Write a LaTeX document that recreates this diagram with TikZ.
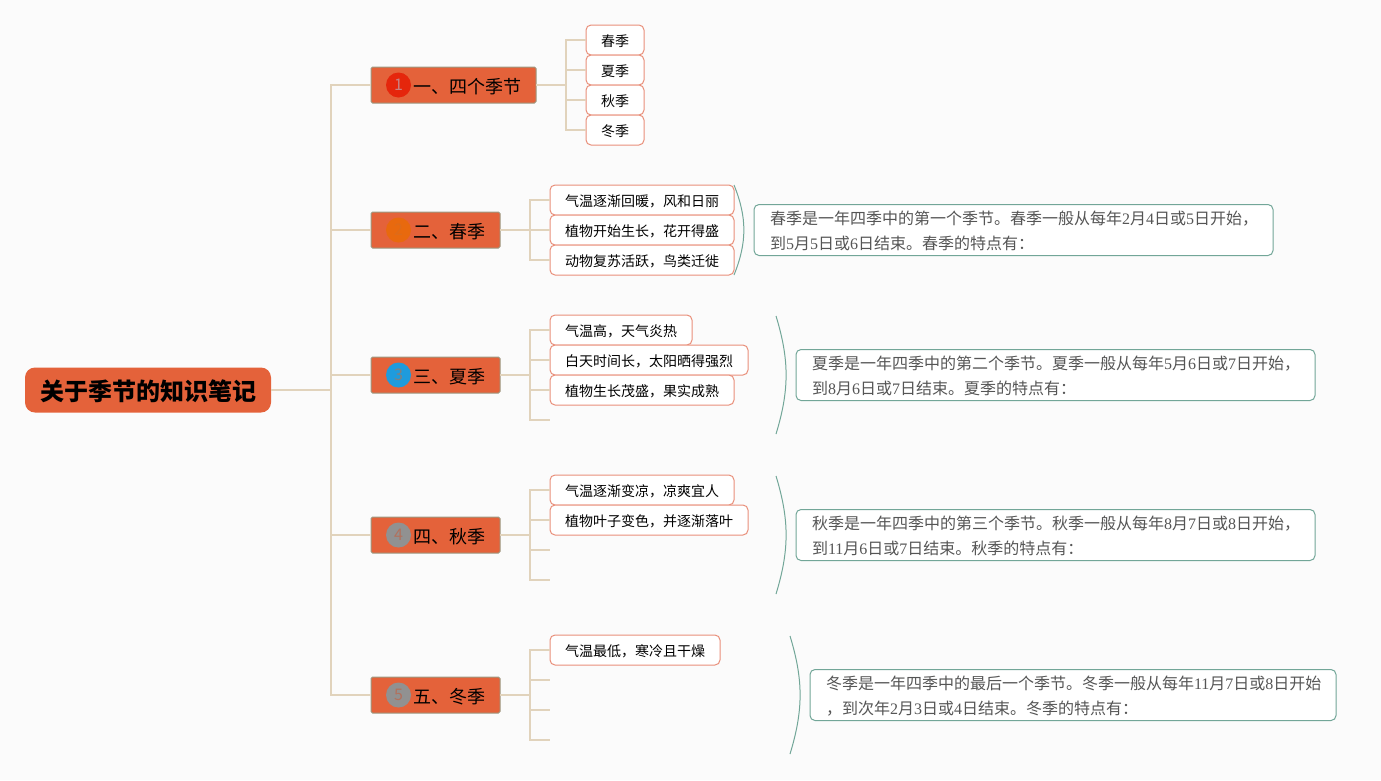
\documentclass[tikz,border=0pt]{standalone}
\usepackage{fontspec}
\setmainfont{Noto Sans CJK SC}
\newfontfamily\digitfont{Liberation Serif}
\newcommand{\dg}[1]{{\digitfont #1}}
\usepackage{xcolor}
\definecolor{pagecol}{HTML}{FBFBFB}
\definecolor{linkcol}{HTML}{E1D3BC}
\definecolor{secfill}{HTML}{E4623A}
\definecolor{secedge}{HTML}{9C9A82}
\definecolor{leafedge}{HTML}{E98F7A}
\definecolor{noteedge}{HTML}{72A698}
\definecolor{notetext}{HTML}{555555}
\definecolor{badgeone}{HTML}{E5260C}
\definecolor{badgetwo}{HTML}{E8690E}
\definecolor{badgethree}{HTML}{1F9BDC}
\definecolor{badgefour}{HTML}{919191}
\tikzset{
  rootbox/.style={draw=none, fill=secfill, rounded corners=10pt, minimum width=246pt, minimum height=45pt,
    inner sep=0pt, outer sep=0pt, text height=20.4pt, text depth=0pt, font=\fontsize{24}{24}\selectfont\bfseries},
  secbox/.style={draw=secedge, line width=1pt, fill=secfill, rounded corners=1.5pt, anchor=west, minimum height=36pt,
    inner xsep=15pt, inner ysep=0pt, outer sep=0pt, text height=16.8pt, text depth=0pt, font=\fontsize{18}{18}\selectfont},
  badge/.style={circle, minimum size=25pt, inner sep=0pt, font=\fontsize{16}{16}\selectfont},
  leafbox/.style={draw=leafedge, line width=1pt, fill=white, rounded corners=5pt, anchor=west, minimum height=30pt,
    inner xsep=15pt, inner ysep=0pt, outer sep=0pt, text height=13.8pt, text depth=0pt, font=\fontsize{14}{14}\selectfont},
  notebox/.style={draw=noteedge, line width=1pt, fill=white, rounded corners=5pt, anchor=west, minimum height=51pt,
    inner xsep=16pt, inner ysep=0pt, outer sep=0pt, align=left, text=notetext, text height=16pt, font=\fontsize{16}{25}\selectfont},
  link/.style={draw=linkcol, line width=1.6pt},
  brace/.style={draw=noteedge, line width=1pt},
}
\begin{document}
\begin{tikzpicture}[x=1pt,y=-1pt]
  % Page
  \fill[pagecol] (0,0) rectangle (1381,780);

  % Root
  \node[rootbox] (root) at (148,390) {关于季节的知识笔记};
  \coordinate (trunk) at (331,390);

  % Sections
  \node[secbox] (sec1) at (371,85) {\hspace*{27pt}一、四个季节};
  \node[secbox] (sec2) at (371,230) {\hspace*{27pt}二、春季};
  \node[secbox] (sec3) at (371,375) {\hspace*{27pt}三、夏季};
  \node[secbox] (sec4) at (371,535) {\hspace*{27pt}四、秋季};
  \node[secbox] (sec5) at (371,695) {\hspace*{27pt}五、冬季};

  % Number badges
  \node[badge, fill=badgeone, text=gray!60!red!70] (badge1) at (398.5,85) {1};
  \node[badge, fill=badgetwo, text=badgetwo!90!gray] (badge2) at (398.5,230) {2};
  \node[badge, fill=badgethree, text=gray] (badge3) at (398.5,375) {3};
  \node[badge, fill=badgefour, text=secfill!50!gray] (badge4) at (398.5,535) {4};
  \node[badge, fill=badgefour, text=secfill!50!gray] (badge5) at (398.5,695) {5};

  % Leaves
  \node[leafbox] (leaf11) at (586,40) {春季};
  \node[leafbox] (leaf12) at (586,70) {夏季};
  \node[leafbox] (leaf13) at (586,100) {秋季};
  \node[leafbox] (leaf14) at (586,130) {冬季};

  \node[leafbox] (leaf21) at (550,200) {气温逐渐回暖，风和日丽};
  \node[leafbox] (leaf22) at (550,230) {植物开始生长，花开得盛};
  \node[leafbox] (leaf23) at (550,260) {动物复苏活跃，鸟类迁徙};

  \node[leafbox] (leaf31) at (550,330) {气温高，天气炎热};
  \node[leafbox] (leaf32) at (550,360) {白天时间长，太阳晒得强烈};
  \node[leafbox] (leaf33) at (550,390) {植物生长茂盛，果实成熟};
  \coordinate (leaf34) at (550,420);

  \node[leafbox] (leaf41) at (550,490) {气温逐渐变凉，凉爽宜人};
  \node[leafbox] (leaf42) at (550,520) {植物叶子变色，并逐渐落叶};
  \coordinate (leaf43) at (550,550);
  \coordinate (leaf44) at (550,580);

  \node[leafbox] (leaf51) at (550,650) {气温最低，寒冷且干燥};
  \coordinate (leaf52) at (550,680);
  \coordinate (leaf53) at (550,710);
  \coordinate (leaf54) at (550,740);

  % Notes
  \node[notebox, text width=487pt] (note2) at (754,230) {春季是一年四季中的第一个季节。春季一般从每年\dg{2}月\dg{4}日或\dg{5}日开始，\\到\dg{5}月\dg{5}日或\dg{6}日结束。春季的特点有：};
  \node[notebox, text width=487pt] (note3) at (796,375) {夏季是一年四季中的第二个季节。夏季一般从每年\dg{5}月\dg{6}日或\dg{7}日开始，\\到\dg{8}月\dg{6}日或\dg{7}日结束。夏季的特点有：};
  \node[notebox, text width=487pt] (note4) at (796,535) {秋季是一年四季中的第三个季节。秋季一般从每年\dg{8}月\dg{7}日或\dg{8}日开始，\\到\dg{11}月\dg{6}日或\dg{7}日结束。秋季的特点有：};
  \node[notebox, text width=494pt] (note5) at (810,695) {冬季是一年四季中的最后一个季节。冬季一般从每年\dg{11}月\dg{7}日或\dg{8}日开始\\，到次年\dg{2}月\dg{3}日或\dg{4}日结束。冬季的特点有：};

  % Main links
  \draw[link] (root.east) -- (trunk);
  \foreach \n in {1,...,5} {
    \draw[link] (trunk) |- (sec\n.west);
  }

  % Forks
  \coordinate (fork1) at (566,85);
  \coordinate (fork2) at (530,230);
  \coordinate (fork3) at (530,375);
  \coordinate (fork4) at (530,535);
  \coordinate (fork5) at (530,695);
  \foreach \n in {1,...,5} {
    \draw[link] (sec\n.east) -- (fork\n);
  }
  \foreach \n in {1,...,4} {
    \draw[link] (fork1) |- (leaf1\n.west);
  }
  \foreach \n in {1,...,3} {
    \draw[link] (fork2) |- (leaf2\n.west);
    \draw[link] (fork3) |- (leaf3\n.west);
  }
  \draw[link] (fork3) |- (leaf34);
  \draw[link] (fork4) |- (leaf41.west);
  \draw[link] (fork4) |- (leaf42.west);
  \draw[link] (fork4) |- (leaf43);
  \draw[link] (fork4) |- (leaf44);
  \draw[link] (fork5) |- (leaf51.west);
  \draw[link] (fork5) |- (leaf52);
  \draw[link] (fork5) |- (leaf53);
  \draw[link] (fork5) |- (leaf54);

  % Summary brackets
  \coordinate (brace2a) at (734,185);
  \coordinate (brace2b) at (734,275);
  \coordinate (brace3a) at (776,316);
  \coordinate (brace3b) at (776,434);
  \coordinate (brace4a) at (776,476);
  \coordinate (brace4b) at (776,594);
  \coordinate (brace5a) at (790,636);
  \coordinate (brace5b) at (790,754);
  \draw[brace] (brace2a) to[bend left=22] (brace2b);
  \draw[brace] (brace3a) to[bend left=17] (brace3b);
  \draw[brace] (brace4a) to[bend left=17] (brace4b);
  \draw[brace] (brace5a) to[bend left=17] (brace5b);
\end{tikzpicture}
\end{document}
